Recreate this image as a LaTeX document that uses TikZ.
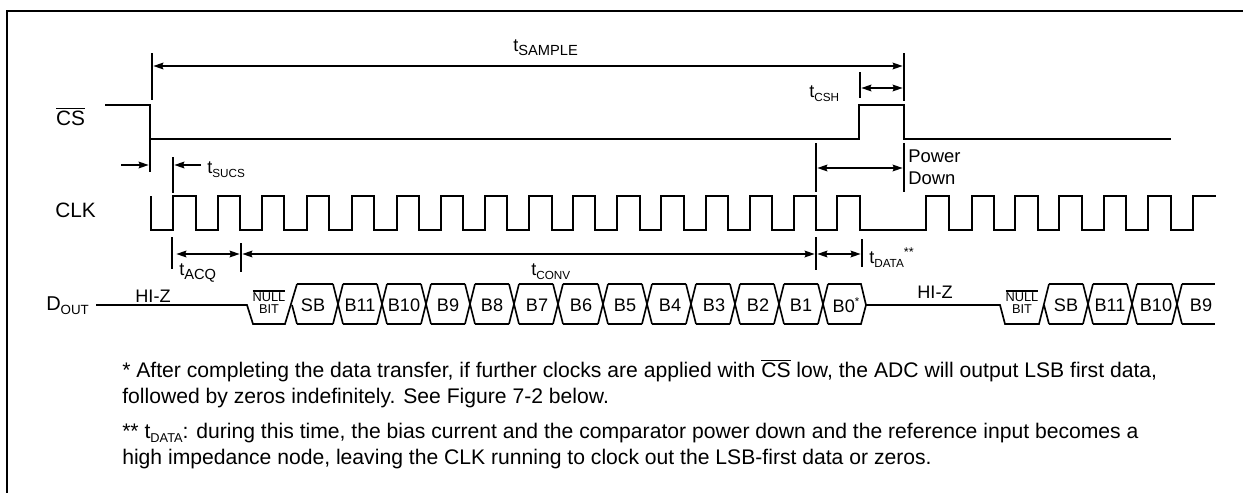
\documentclass[tikz,border=0pt]{standalone}
\usepackage{fontspec}
\setmainfont{Liberation Sans}
\usetikzlibrary{arrows.meta}
\newcommand\subt[2]{#1\raisebox{-3.3pt}{\fontsize{8.8}{9}\selectfont #2}}
\newcommand\subb[2]{#1\raisebox{-3.3pt}{\fontsize{11}{11}\selectfont #2}}
\newcommand\subn[2]{#1\raisebox{-3.6pt}{\fontsize{9.6}{10}\selectfont #2}}
\newcommand\lbar[1]{\leavevmode\vbox{\hrule height 1pt\kern 1pt\hbox{#1}}}
\tikzset{
  x=.75pt,y=-.75pt,
  wave/.style={line width=1.25pt,line join=miter},
  tick/.style={line width=1.25pt},
  dim/.style={line width=1.25pt,{Stealth[length=7.5pt,width=5pt,inset=1pt,sep=1pt]}-{Stealth[length=7.5pt,width=5pt,inset=1pt,sep=1pt]}},
  dimr/.style={line width=1.25pt,-{Stealth[length=7.5pt,width=5pt,inset=1pt,sep=1pt]}},
  lab/.style={inner sep=0pt,anchor=base,font=\fontsize{13.6}{16}\selectfont},
  big/.style={inner sep=0pt,anchor=base,font=\fontsize{15.6}{18}\selectfont},
  cell/.style={inner sep=0pt,font=\fontsize{13.6}{16}\selectfont},
  note/.style={inner sep=0pt,anchor=base west,font=\fontsize{15.85}{18}\selectfont}
}
\begin{document}
\begin{tikzpicture}
\useasboundingbox (0,0) rectangle (1243,493);
\draw[line width=1.5pt] (1243,11) -- (7,11) -- (7,493);
% CS
\draw[wave] (105,105) -- (150,105) -- (150,139) -- (859,139) -- (859,105) -- (904,105) -- (904,139) -- (1171,139);
% CLK
\draw[wave] (151,196) -- (151,230) -- (173,230) -- (173,196) -- (196,196) -- (196,230)
 -- (218,230) -- (218,196) -- (240,196) -- (240,230) -- (262,230) -- (262,196) -- (284,196) -- (284,230)
 -- (307,230) -- (307,196) -- (329,196) -- (329,230) -- (352,230) -- (352,196) -- (374,196) -- (374,230)
 -- (397,230) -- (397,196) -- (419,196) -- (419,230) -- (441,230) -- (441,196) -- (463,196) -- (463,230)
 -- (485,230) -- (485,196) -- (507,196) -- (507,230) -- (529,230) -- (529,196) -- (552,196) -- (552,230)
 -- (573,230) -- (573,196) -- (595,196) -- (595,230) -- (617,230) -- (617,196) -- (640,196) -- (640,230)
 -- (661,230) -- (661,196) -- (684,196) -- (684,230) -- (706,230) -- (706,196) -- (728,196) -- (728,230)
 -- (750,230) -- (750,196) -- (772,196) -- (772,230) -- (794,230) -- (794,196) -- (816,196) -- (816,230)
 -- (837,230) -- (837,196) -- (860,196) -- (860,230) -- (926,230) -- (926,196) -- (949,196) -- (949,230)
 -- (972,230) -- (972,196) -- (994,196) -- (994,230) -- (1015,230) -- (1015,196) -- (1038,196) -- (1038,230)
 -- (1059,230) -- (1059,196) -- (1082,196) -- (1082,230) -- (1104,230) -- (1104,196) -- (1126,196) -- (1126,230)
 -- (1148,230) -- (1148,196) -- (1171,196) -- (1171,230) -- (1193,230) -- (1193,196) -- (1216,196);
% D_OUT first burst
\draw[wave] (96,305) -- (247,305) -- (253,324) -- (285,324) -- (297,284);
\draw[wave] (292,305) -- (297,324);
\foreach \a/\b in {297/333,343/377,387/421,431/465,475/509,519/553,563/598,608/642,652/686,696/730,740/774,784/818}
  \draw[wave] (\a,284) -- (\b,284) (\a,324) -- (\b,324);
\foreach \c in {338,382,426,470,514,558,603,647,691,735,779,823}
  \draw[wave] (\c-5,284) -- (\c+5,324) (\c-5,324) -- (\c+5,284);
\draw[wave] (828,284) -- (861,284) -- (866,305) -- (861,324) -- (828,324);
% D_OUT second burst
\draw[wave] (866,305) -- (1000,305) -- (1005,324) -- (1039,324) -- (1049,284);
\draw[wave] (1044,305) -- (1049,324);
\foreach \a/\b in {1049/1083,1093/1127,1137/1172,1182/1215}
  \draw[wave] (\a,284) -- (\b,284) (\a,324) -- (\b,324);
\foreach \c in {1088,1132,1177}
  \draw[wave] (\c-5,284) -- (\c+5,324) (\c-5,324) -- (\c+5,284);
% dimension coordinates
\coordinate (sa) at (152,53); \coordinate (sb) at (152,100);
\coordinate (ea) at (904,53); \coordinate (eb) at (904,101);
\coordinate (sl) at (152,66); \coordinate (sr) at (904,66);
\coordinate (ha) at (860,72); \coordinate (hb) at (860,98);
\coordinate (hl) at (860,88); \coordinate (hr) at (904,88);
\coordinate (ua) at (150,139); \coordinate (ub) at (150,172);
\coordinate (ut) at (121,165); \coordinate (uh) at (150,165);
\coordinate (va) at (173,157); \coordinate (vb) at (173,193);
\coordinate (vt) at (201,165); \coordinate (vh) at (173,165);
\coordinate (pa) at (816,143); \coordinate (pb) at (816,192);
\coordinate (qa) at (904,143); \coordinate (qb) at (904,192);
\coordinate (pl) at (816,168); \coordinate (pr) at (904,168);
\coordinate (aa) at (172,237); \coordinate (ab) at (172,269);
\coordinate (ba) at (241,243); \coordinate (bb) at (241,272);
\coordinate (ca) at (816,237); \coordinate (cb) at (816,270);
\coordinate (da) at (862,239); \coordinate (db) at (862,267);
\coordinate (al) at (175,254); \coordinate (am) at (241,254);
\coordinate (cm) at (816,254); \coordinate (dr) at (862,254);
\draw[tick] (sa)--(sb) (ea)--(eb) (ha)--(hb) (ua)--(ub) (va)--(vb) (pa)--(pb) (qa)--(qb) (aa)--(ab) (ba)--(bb) (ca)--(cb) (da)--(db);
\draw[dim] (sl)--(sr);
\draw[dim] (hl)--(hr);
\draw[dimr] (ut)--(uh);
\draw[dimr] (vt)--(vh);
\draw[dim] (pl)--(pr);
\draw[dim] (al)--(am);
\draw[dim] (am)--(cm);
\draw[dim] (cm)--(dr);
% labels
\node[big] (lcs) at (70.5,125) {\lbar{CS}};
\node[big] (lclk) at (75.5,217) {CLK};
\node[inner sep=0pt,anchor=base west,font=\fontsize{15}{18}\selectfont] (ldout) at (46,310) {D\raisebox{-3.3pt}{\fontsize{10}{10}\selectfont OUT}};
\node[lab,anchor=base west] (lsample) at (513,51) {\subb{t}{SAMPLE}};
\node[lab,anchor=base west] (lcsh) at (809,97) {\subt{t}{CSH}};
\node[lab,anchor=base west] (lsucs) at (207,173) {\subt{t}{SUCS}};
\node[inner sep=0pt,anchor=base west,font=\fontsize{13.8}{16}\selectfont] (lpd1) at (908,162) {Power};
\node[inner sep=0pt,anchor=base west,font=\fontsize{13.8}{16}\selectfont] (lpd2) at (908,184) {Down};
\node[lab,anchor=base west] (lacq) at (179,275) {\subb{t}{ACQ}};
\node[lab,anchor=base west] (lconv) at (531,275) {\subt{t}{CONV}};
\node[lab,anchor=base west] (ldata) at (869,263) {\subt{t}{DATA}\raisebox{5pt}{\fontsize{9.5}{9.5}\selectfont **}};
\node[lab] (lz1) at (153,302) {HI-Z};
\node[lab] (lz2) at (935,298.5) {HI-Z};
\foreach \n/\x/\t in {a/313/SB,b/360/B11,c/404/B10,d/448/B9,e/492/B8,f/537/B7,g/581/B6,h/625/B5,i/670/B4,j/714/B3,k/758/B2,l/801/B1,m/1066/SB,n/1110/B11,o/1156/B10,p/1201/B9}
  \node[cell] (cell\n) at (\x,305) {\t};
\node[cell] (cellz) at (846,305) {B0\raisebox{5pt}{\fontsize{8.5}{8.5}\selectfont *}};
\foreach \n/\x in {x/269,y/1022}
  \node[inner sep=0pt,align=center,font=\fontsize{9.6}{9}\selectfont] (nb\n) at (\x,302) {\lbar{NULL}\\BIT};
\node[note] (n1) at (122,377) {* After completing the data transfer, if further clocks are applied with \lbar{CS} low, the ADC will output LSB first data,};
\node[note] (n2) at (122,403) {followed by zeros indefinitely. See Figure 7-2 below.};
\node[note] (n3) at (122,438) {** \subn{t}{DATA}: during this time, the bias current and the comparator power down and the reference input becomes a};
\node[note] (n4) at (122,464) {high impedance node, leaving the CLK running to clock out the LSB-first data or zeros.};
\end{tikzpicture}
\end{document}
